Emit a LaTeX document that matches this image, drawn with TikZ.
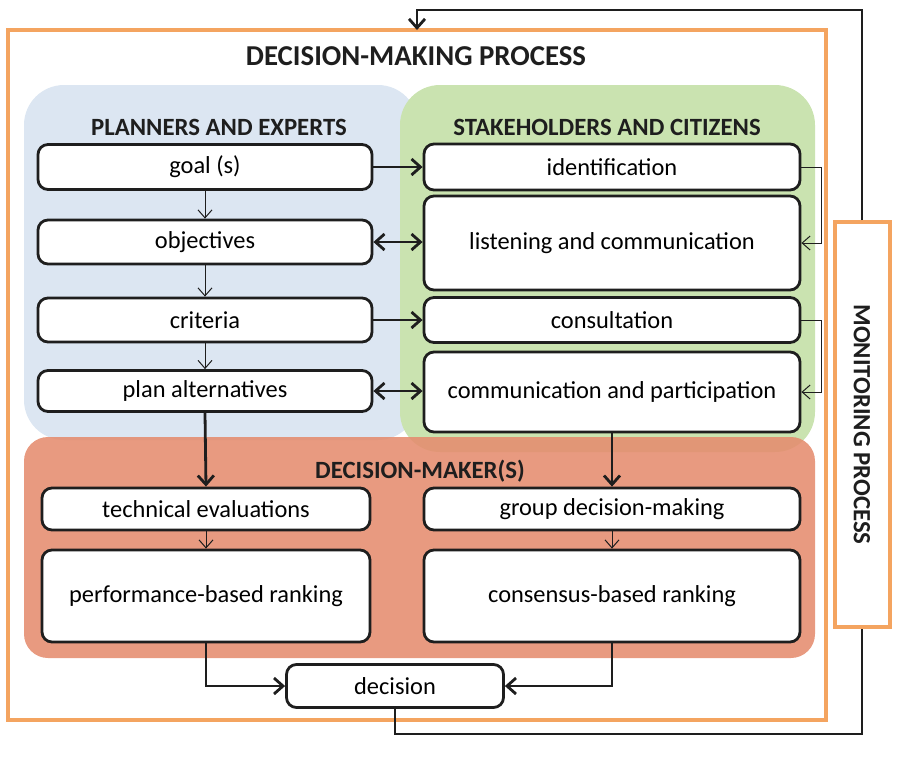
\documentclass[tikz,border=0pt]{standalone}
\usepackage{fontspec}
\setmainfont{Carlito}
\usepackage{tikz}
\usetikzlibrary{arrows.meta, positioning}
\definecolor{frameorange}{RGB}{244,164,96}
\definecolor{planblue}{RGB}{220,230,242}
\definecolor{stakegreen}{RGB}{202,227,176}
\definecolor{makerred}{RGB}{229,140,110}
\definecolor{ink}{RGB}{30,30,30}

\begin{document}
\begin{tikzpicture}[
  x=0.5pt, y=-0.5pt,
  stepbox/.style={draw=ink, line width=1.4pt, rounded corners=5pt, fill=white, font=\fontsize{12.2}{14}\selectfont, inner sep=0pt},
  lbox/.style={stepbox, minimum width=167pt},
  rbox/.style={stepbox, minimum width=188pt},
  group_label/.style={font=\fontsize{12.4}{14}\selectfont\bfseries, color=ink},
  thinarrow/.style={draw=ink, line width=0.5pt, -{Straight Barb[length=4pt,width=7pt]}},
  thickarrow/.style={draw=ink, line width=1.4pt, -{Straight Barb[length=4.5pt,width=8pt]}},
  twoway/.style={draw=ink, line width=1.4pt, {Straight Barb[length=4.5pt,width=8pt]}-{Straight Barb[length=4.5pt,width=8pt]}}
]
\useasboundingbox (0,0) rectangle (907,757);

% frame and coloured groups
\draw[frameorange, line width=1.6pt] (8,30) rectangle (826,720);
\fill[planblue, rounded corners=20pt] (24,85) rectangle (418,440);
\fill[stakegreen, rounded corners=20pt] (400,85) rectangle (815,452);
\fill[makerred, fill opacity=0.88, rounded corners=12pt] (24,437) rectangle (815,658);

\node[font=\fontsize{14.4}{17}\selectfont\bfseries, color=ink] (title) at (416,56) {DECISION-MAKING PROCESS};
\node[group_label] (planners) at (219,127) {PLANNERS AND EXPERTS};
\node[group_label] (stake) at (607,127) {STAKEHOLDERS AND CITIZENS};
\node[group_label] (makers) at (420,471) {DECISION-MAKER(S)};

% planners
\node[lbox, minimum height=22.5pt] (goal) at (205,167) {goal (s)};
\node[lbox, minimum height=22pt] (objectives) at (205,242) {objectives};
\node[lbox, minimum height=22pt] (criteria) at (205,320) {criteria};
\node[lbox, minimum height=20.5pt] (alternatives) at (205,391) {plan alternatives};

% stakeholders
\node[rbox, minimum height=23pt] (identification) at (612,167) {identification};
\node[rbox, minimum height=47pt] (listening) at (612,243) {listening and communication};
\node[rbox, minimum height=22.5pt] (consultation) at (612,320) {consultation};
\node[rbox, minimum height=40pt] (participation) at (612,392) {communication and participation};

% decision makers
\node[lbox, minimum width=164pt, minimum height=21pt] (technical) at (206,509) {technical evaluations};
\node[lbox, minimum width=164pt, minimum height=46pt] (performance) at (206,596) {performance-based ranking};
\node[rbox, minimum height=21pt] (group) at (612,509) {group decision-making};
\node[rbox, minimum height=46pt] (consensus) at (612,596) {consensus-based ranking};
\node[stepbox, minimum width=108.5pt, minimum height=21.5pt] (decision) at (395,686) {decision};

% monitoring (rotated, so west is its top end)
\node[draw=frameorange, line width=2pt, fill=white, rotate=-90, minimum width=202.5pt, minimum height=27.5pt,
  font=\fontsize{12.4}{14}\selectfont\bfseries, text=ink] (monitor) at (862,424.5) {MONITORING PROCESS};
\coordinate (loop) at (417,10);
\coordinate (frametop) at (417,30);

\draw[thinarrow] (goal) -- (objectives);
\draw[thinarrow] (objectives) -- (criteria);
\draw[thinarrow] (criteria) -- (alternatives);
\draw[thickarrow] (goal.east) -- (goal.east -| identification.west);
\draw[twoway] (objectives.east) -- (objectives.east -| listening.west);
\draw[thickarrow] (criteria.east) -- (criteria.east -| consultation.west);
\draw[twoway] (alternatives.east) -- (alternatives.east -| participation.west);
\draw[thinarrow] (identification.east) -- ++(20,0) |- (listening.east);
\draw[thinarrow] (consultation.east) -- ++(20,0) |- (participation.east);

\draw[thickarrow] (alternatives.south) -- (technical.north);
\draw[thickarrow] (participation.south) -- (group.north);
\draw[thinarrow] (technical) -- (performance);
\draw[thinarrow] (group) -- (consensus);
\draw[thickarrow] (performance.south) |- (decision.west);
\draw[thickarrow] (consensus.south) |- (decision.east);

\draw[draw=ink, line width=1.4pt] (decision.south) -- ++(0,25) -| (monitor.east);
\draw[thickarrow] (monitor.west) |- (loop) -- (frametop);
\end{tikzpicture}
\end{document}
